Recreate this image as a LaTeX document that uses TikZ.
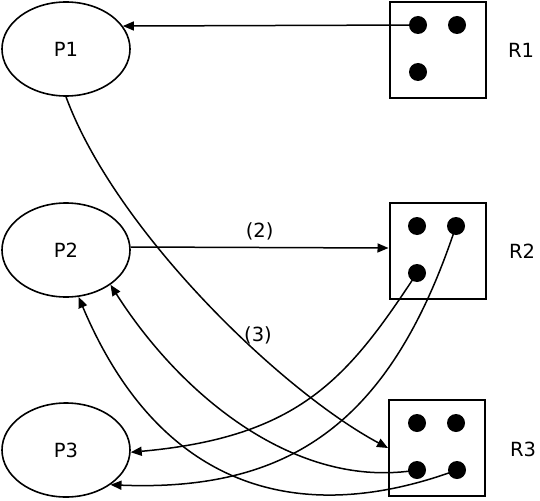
\documentclass[tikz,border=0pt]{standalone}
\usepackage{fontspec}
\setmainfont{DejaVu Sans}
\usetikzlibrary{arrows.meta,shapes.geometric}
\begin{document}
\begin{tikzpicture}[x=1pt,y=-1pt,
  proc/.style={ellipse,draw,line width=1.6pt,minimum width=128pt,minimum height=94pt,inner sep=0pt},
  res/.style={rectangle,draw,line width=2pt,minimum width=96pt,minimum height=96pt,inner sep=0pt},
  dot/.style={circle,fill=black,minimum size=18pt,inner sep=0pt},
  lab/.style={inner sep=0pt},
  arr/.style={-{Triangle[length=11pt,width=9pt]},line width=1.5pt},
  font=\fontsize{19.5}{23}\selectfont]
\useasboundingbox (0,0) rectangle (540,500);
% processes
\node[proc] (P1) at (66,49) {P1};
\node[proc] (P2) at (66,250) {P2};
\node[proc] (P3) at (66,450) {P3};
% resources
\node[res] (R1) at (438,50) {};
\node[res] (R2) at (437.5,251) {};
\node[res] (R3) at (437,448) {};
\node[lab] (L1) at (521,50) {R1};
\node[lab] (L2) at (522,251) {R2};
\node[lab] (L3) at (523,449) {R3};
% dots
\node[dot] (d11) at (418,25) {};
\node[dot] (d12) at (457,25) {};
\node[dot] (d13) at (418,72) {};
\node[dot] (d21) at (417,226) {};
\node[dot] (d22) at (456,226) {};
\node[dot] (d23) at (417,273) {};
\node[dot] (d31) at (417,423) {};
\node[dot] (d32) at (456,423) {};
\node[dot] (d33) at (417,470) {};
\node[dot] (d34) at (457,470) {};
% connectors
\draw[arr] (d11.center) -- (P1.22);
\draw[arr] ([yshift=3pt]P2.east) -- node[lab,above=7pt,midway] (e2) {(2)} ([yshift=3pt]R2.west);
\draw[arr] (P1.south) .. controls (115,230) and (280,390) .. (R3.west);
\node[lab] (e3) at (258,335) {(3)};
\draw[arr] (d23.center) .. controls (348,378) and (300,437) .. (P3.-2);
\draw[arr] (d22.center) .. controls (392,420) and (293,492) .. (P3.-38);
\draw[arr] (d33.center) .. controls (297,490) and (182,397) .. (P2.-38);
\draw[arr] (d34.center) .. controls (300,528) and (160,490) .. (P2.-75);
\end{tikzpicture}
\end{document}
